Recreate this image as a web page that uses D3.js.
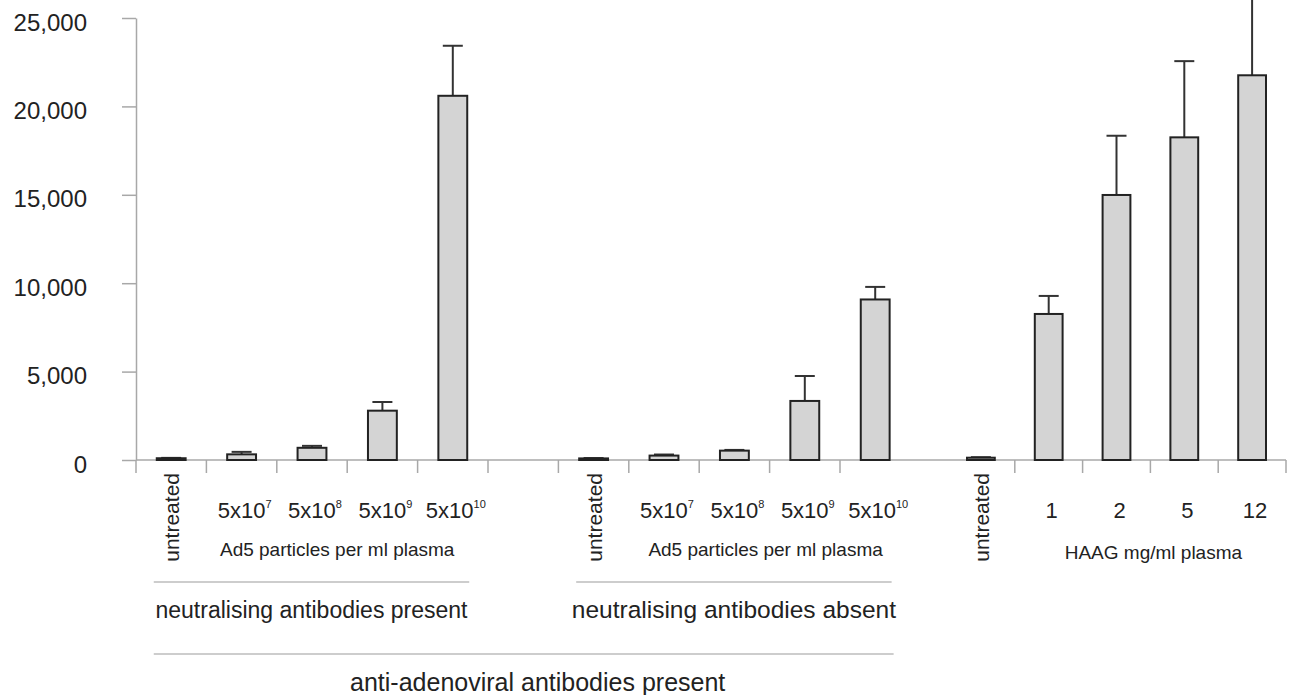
<!DOCTYPE html>
<html lang="en">
<head>
<meta charset="utf-8">
<title>Ad5 transduction in plasma</title>
<script src="https://d3js.org/d3.v7.min.js"></script>
<style>
  body { margin: 0; background: #fff; }
  svg { display: block; font-family: "Liberation Sans", Arial, sans-serif; }
  .axis path, .axis line { stroke: #a8a8a8; stroke-width: 1.5; }
  .axis text { fill: #222; font-size: 24px; }
</style>
</head>
<body>
<script>
// data
const ad5Categories = ["untreated", "5x10^7", "5x10^8", "5x10^9", "5x10^10"];
const nabPresentMeans = [100, 320, 690, 2790, 20600];
const nabPresentErrors = [20, 140, 110, 490, 2830];
const nabAbsentMeans = [90, 250, 530, 3340, 9080];
const nabAbsentErrors = [20, 60, 40, 1410, 710];
const haagCategories = ["untreated", "1", "2", "5", "12"];
const haagMeans = [130, 8260, 14990, 18250, 21760];
const haagErrors = [30, 1020, 3350, 4310, 4900];
const yTicks = [0, 5000, 10000, 15000, 20000, 25000];

const w = 1295, h = 695;
const svg = d3.select("body").append("svg").attr("width", w).attr("height", h);

const y = d3.scaleLinear().domain([0, 25000]).range([460, 18]);

// first two groups share one band scale (with an empty slot between them)
const leftKeys = ad5Categories.map(c => "P|" + c)
  .concat(["gap"])
  .concat(ad5Categories.map(c => "A|" + c));
const xA = d3.scaleBand().domain(leftKeys).range([136, 910.4])
  .paddingInner(0.59).paddingOuter(0.295);
const xB = d3.scaleBand().domain(haagCategories.map(c => "H|" + c)).range([947, 1286])
  .paddingInner(0.59).paddingOuter(0.295);

let bars = [];
ad5Categories.forEach((c, i) => bars.push({key: "P|" + c, label: c, v: nabPresentMeans[i], e: nabPresentErrors[i], sc: xA}));
ad5Categories.forEach((c, i) => bars.push({key: "A|" + c, label: c, v: nabAbsentMeans[i], e: nabAbsentErrors[i], sc: xA}));
haagCategories.forEach((c, i) => bars.push({key: "H|" + c, label: c, v: haagMeans[i], e: haagErrors[i], sc: xB}));
bars.forEach(d => { d.x = d.sc(d.key); d.bw = d.sc.bandwidth(); d.cx = d.x + d.bw / 2; });

// y axis
const yAxis = svg.append("g").attr("class", "axis").attr("transform", "translate(136,0)")
  .call(d3.axisLeft(y).tickValues(yTicks).tickSize(14).tickSizeOuter(0).tickPadding(35)
    .tickFormat(d3.format(",")));
yAxis.selectAll("text").attr("dy", "0.5em");

// x axis line and category ticks
svg.append("line").attr("x1", 136).attr("x2", 1286).attr("y1", y(0)).attr("y2", y(0))
  .attr("stroke", "#a8a8a8").attr("stroke-width", 1.5);
let tickXs = d3.range(0, 11).map(i => xA.range()[0] + i * xA.step());
tickXs = tickXs.concat(d3.range(1, 6).map(i => xB.range()[0] + i * xB.step()));
svg.selectAll(".xtick").data(tickXs).enter().append("line")
  .attr("x1", d => d).attr("x2", d => d)
  .attr("y1", y(0)).attr("y2", y(0) + 13)
  .attr("stroke", "#a8a8a8").attr("stroke-width", 1.5);

// error bars
const eb = svg.append("g").attr("stroke", "#333").attr("stroke-width", 2);
eb.selectAll(".stem").data(bars).enter().append("line")
  .attr("x1", d => d.cx).attr("x2", d => d.cx)
  .attr("y1", d => y(d.v)).attr("y2", d => y(d.v + d.e));
eb.selectAll(".cap").data(bars).enter().append("line")
  .attr("x1", d => d.cx - 10).attr("x2", d => d.cx + 10)
  .attr("y1", d => y(d.v + d.e)).attr("y2", d => y(d.v + d.e));

// bars
svg.selectAll(".bar").data(bars).enter().append("rect")
  .attr("x", d => d.x).attr("width", d => d.bw)
  .attr("y", d => y(d.v)).attr("height", d => y(0) - y(d.v))
  .attr("fill", "#d4d4d4").attr("stroke", "#222").attr("stroke-width", 2);

// category labels
const labels = svg.append("g").attr("fill", "#222");
bars.filter(d => d.label === "untreated").forEach(d => {
  labels.append("text")
    .attr("transform", `translate(${d.cx + 8},473) rotate(-90)`)
    .attr("text-anchor", "end").attr("font-size", 21).text("untreated");
});
bars.filter(d => d.label !== "untreated").forEach(d => {
  const t = labels.append("text").attr("x", d.cx + 3).attr("y", 518)
    .attr("text-anchor", "middle").attr("font-size", 22);
  const parts = d.label.split("^");
  t.append("tspan").text(parts[0]);
  if (parts[1]) {
    t.append("tspan").attr("dy", -10).attr("font-size", 11).text(parts[1]);
  }
});

// group captions
function groupCenter(prefix, sc) {
  const cs = bars.filter(d => d.key.startsWith(prefix) && d.label !== "untreated").map(d => d.cx);
  return d3.mean(cs);
}
labels.append("text").attr("x", groupCenter("P|", xA) - 10).attr("y", 556)
  .attr("text-anchor", "middle").attr("font-size", 19).text("Ad5 particles per ml plasma");
labels.append("text").attr("x", groupCenter("A|", xA) - 4).attr("y", 556)
  .attr("text-anchor", "middle").attr("font-size", 19).text("Ad5 particles per ml plasma");
labels.append("text").attr("x", groupCenter("H|", xB) + 3).attr("y", 559)
  .attr("text-anchor", "middle").attr("font-size", 19).text("HAAG mg/ml plasma");

// bracket lines under the groups
function groupSpan(prefix) {
  const g = bars.filter(d => d.key.startsWith(prefix));
  return [g[0].x - 3, g[g.length - 1].x + g[g.length - 1].bw + 2];
}
const spP = groupSpan("P|"), spA = groupSpan("A|");
const lines = svg.append("g").attr("stroke", "#bdbdbd").attr("stroke-width", 1.5);
lines.append("line").attr("x1", spP[0]).attr("x2", spP[1]).attr("y1", 582).attr("y2", 582);
lines.append("line").attr("x1", spA[0]).attr("x2", spA[1]).attr("y1", 582).attr("y2", 582);
lines.append("line").attr("x1", spP[0]).attr("x2", spA[1] + 2).attr("y1", 654).attr("y2", 654);

labels.append("text").attr("x", (spP[0] + spP[1]) / 2).attr("y", 618)
  .attr("text-anchor", "middle").attr("font-size", 23).text("neutralising antibodies present");
labels.append("text").attr("x", (spA[0] + spA[1]) / 2).attr("y", 618)
  .attr("text-anchor", "middle").attr("font-size", 24.5).text("neutralising antibodies absent");
labels.append("text").attr("x", (spP[0] + spA[1]) / 2 + 15).attr("y", 691)
  .attr("text-anchor", "middle").attr("font-size", 25).text("anti-adenoviral antibodies present");
</script>
</body>
</html>
